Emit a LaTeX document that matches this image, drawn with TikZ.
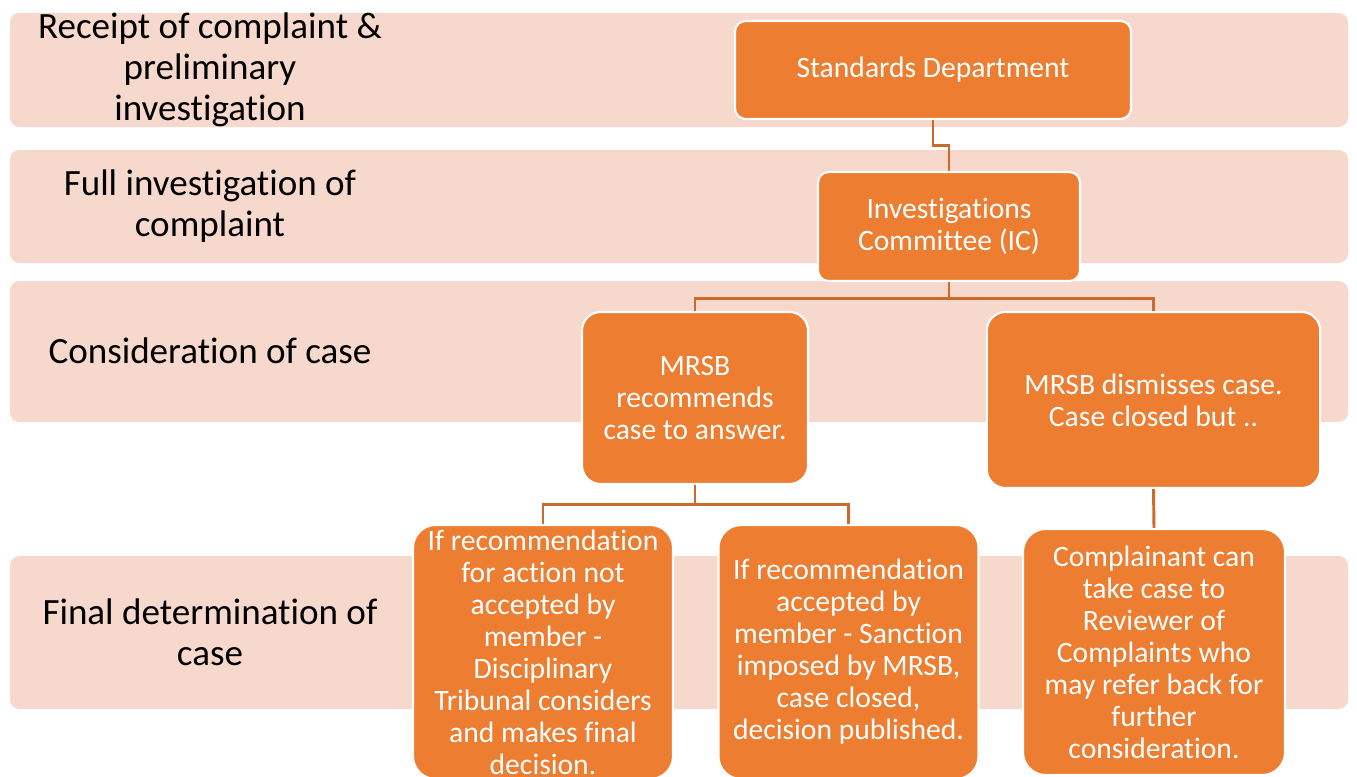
\documentclass[tikz,border=0pt]{standalone}
\usepackage{fontspec}
\setmainfont{Carlito}[Ligatures=NoCommon]
\definecolor{boxor}{HTML}{ED7D31}
\definecolor{bandpk}{HTML}{F7D8CD}
\definecolor{linkor}{HTML}{CC6A2C}
\begin{document}
\begin{tikzpicture}[x=0.75pt,y=-0.75pt,
  band/.style={fill=bandpk,rounded corners=7pt},
  bandlabel/.style={align=center,text=black,font=\fontsize{27.8}{30.75}\selectfont},
  obox/.style={draw=white,line width=1.6pt,fill=boxor,text=white,align=center,
    font=\fontsize{22.2}{24}\selectfont,inner sep=0pt},
  link/.style={draw=linkor,line width=2.2pt}]
\useasboundingbox (0,0) rectangle (1357,776);
\fill[white] (0,0) rectangle (1357,776);
% bands
\fill[band] (10,13) rectangle (1348,127);
\fill[band] (10,150) rectangle (1348,263);
\fill[band] (10,281) rectangle (1348,422);
\fill[band] (10,556) rectangle (1348,709);
\node[bandlabel] (l1) at (210,70) {Receipt of complaint \&\\preliminary\\investigation};
\node[bandlabel] (l2) at (210,206) {Full investigation of\\complaint};
\node[bandlabel] (l3) at (210,351) {Consideration of case};
\node[bandlabel] (l4) at (210,632) {Final determination of\\case};
% boxes
\node[obox,rounded corners=8pt,minimum width=297pt,minimum height=73.5pt] (sd) at (933,70) {Standards Department};
\node[obox,rounded corners=8pt,minimum width=196.5pt,minimum height=81.75pt] (ic) at (949,226.5) {Investigations\\Committee (IC)};
\node[obox,rounded corners=14pt,minimum width=169.5pt,minimum height=129pt] (rec) at (695,398) {MRSB\\recommends\\case to answer.};
\node[obox,rounded corners=14pt,minimum width=250pt,minimum height=132pt] (dis) at (1153.5,400) {MRSB dismisses case.\\Case closed but ..};
\node[obox,rounded corners=17pt,minimum width=195pt,minimum height=190.5pt] (lft) at (543,652) {If recommendation\\for action not\\accepted by\\member -\\Disciplinary\\Tribunal considers\\and makes final\\decision.};
\node[obox,rounded corners=17pt,minimum width=195pt,minimum height=190.5pt] (mid) at (848.5,652) {If recommendation\\accepted by\\member - Sanction\\imposed by MRSB,\\case closed,\\decision published.};
\node[obox,rounded corners=17pt,minimum width=196.5pt,minimum height=184.5pt] (rgt) at (1154,652) {Complainant can\\take case to\\Reviewer of\\Complaints who\\may refer back for\\further\\consideration.};
% connectors
\draw[link] (sd.south) -- ++(0,25) -| (ic.north);
\draw[link] (ic.south) -- ++(0,16) -| (rec.north);
\draw[link] (ic.south) -- ++(0,16) -| (dis.north);
\draw[link] (rec.south) -- ++(0,19) -| (lft.north);
\draw[link] (rec.south) -- ++(0,19) -| (mid.north);
\draw[link] (dis.south) -- (rgt.north);
\end{tikzpicture}
\end{document}
